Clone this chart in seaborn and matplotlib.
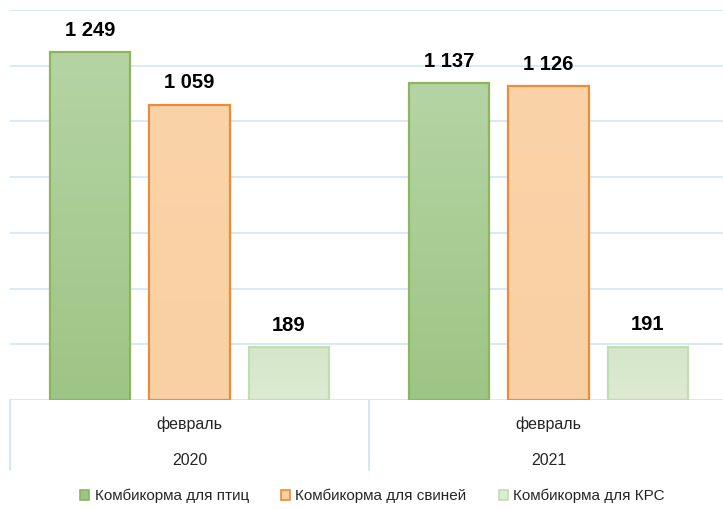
import numpy as np
import pandas as pd
import matplotlib
matplotlib.use('Agg')
import matplotlib.pyplot as plt
import matplotlib.colors as mcolors
from matplotlib.patches import Patch
import seaborn as sns

# data
months = ['февраль', 'февраль']
years = ['2020', '2021']
series = ['Комбикорма для птиц', 'Комбикорма для свиней', 'Комбикорма для КРС']
poultry = [1249, 1137]
pigs = [1059, 1126]
cattle = [189, 191]

fills_top = ['#b5d4a4', '#fbd3a8', '#d4e6c8']
fills_bot = ['#9dc585', '#f9d0a3', '#dcebd2']
edges = ['#8db55c', '#ec8b3a', '#c3ddb2']
grid_c = '#d3e8f6'

sns.set_theme(style='white')
plt.rcParams['font.family'] = ['Liberation Sans', 'DejaVu Sans']


def main():
    cats = [f'{m}\n{y}' for m, y in zip(months, years)]
    df = pd.DataFrame({
        'cat': cats * 3,
        'series': sum([[s] * 2 for s in series], []),
        'value': poultry + pigs + cattle,
    })

    fig = plt.figure(figsize=(7.23, 5.09), dpi=100)
    ax = fig.add_axes([10 / 723, 109 / 509, 718 / 723, 390 / 509])

    sns.barplot(data=df, x='cat', y='value', hue='series', hue_order=series,
                width=0.83, gap=0.19, palette=fills_bot, saturation=1,
                legend=False, ax=ax, zorder=3)

    ax.set_ylim(0, 1400)
    ax.set_xlim(-0.5, 1.5)
    ax.set_yticks(np.arange(0, 1401, 200))
    ax.yaxis.grid(True, color=grid_c, linewidth=1.3, zorder=0)
    ax.set_yticklabels([])
    ax.tick_params(left=False, bottom=False)
    ax.set_xticks([])
    ax.set_xlabel('')
    ax.set_ylabel('')
    for s in ax.spines.values():
        s.set_visible(False)

    # gradient fills + labels
    grad = np.linspace(0, 1, 256).reshape(-1, 1)
    for i, cont in enumerate(ax.containers):
        cmap = mcolors.LinearSegmentedColormap.from_list(
            f'g{i}', [fills_bot[i], fills_top[i]])
        for bar, val in zip(cont, cont.datavalues):
            x0, w, h = bar.get_x(), bar.get_width(), bar.get_height()
            bar.set_edgecolor(edges[i])
            bar.set_linewidth(1.6)
            im = ax.imshow(grad, cmap=cmap, origin='lower', aspect='auto',
                           extent=[x0, x0 + w, 0, h], zorder=2.5)
            im.set_clip_path(bar)
            bar.set_facecolor('none')
            ax.text(x0 + w / 2, h + 45, f'{int(val):,}'.replace(',', ' '),
                    ha='center', va='bottom', fontsize=14.5, fontweight='bold',
                    color='black')
    ax.set_xlim(-0.5, 1.5)
    ax.set_ylim(0, 1400)

    # two-level category axis
    for xb in [-0.5, 0.5]:
        ax.plot([xb, xb], [0, -250], color=grid_c, linewidth=1.5,
                clip_on=False)
    for i, (m, y) in enumerate(zip(months, years)):
        ax.text(i, -88, m, ha='center', va='center', fontsize=11.5)
        ax.text(i, -218, y, ha='center', va='center', fontsize=11.5)

    handles = [Patch(facecolor=fills_bot[i], edgecolor=edges[i], linewidth=1.2,
                     label=series[i]) for i in range(3)]
    fig.legend(handles=handles, loc='center', bbox_to_anchor=(0.515, 0.025),
               ncol=3, frameon=False, fontsize=11, handlelength=0.6,
               handleheight=0.6, handletextpad=0.35, columnspacing=2.1)

    fig.savefig('out.png', dpi=100)


if __name__ == '__main__':
    main()
